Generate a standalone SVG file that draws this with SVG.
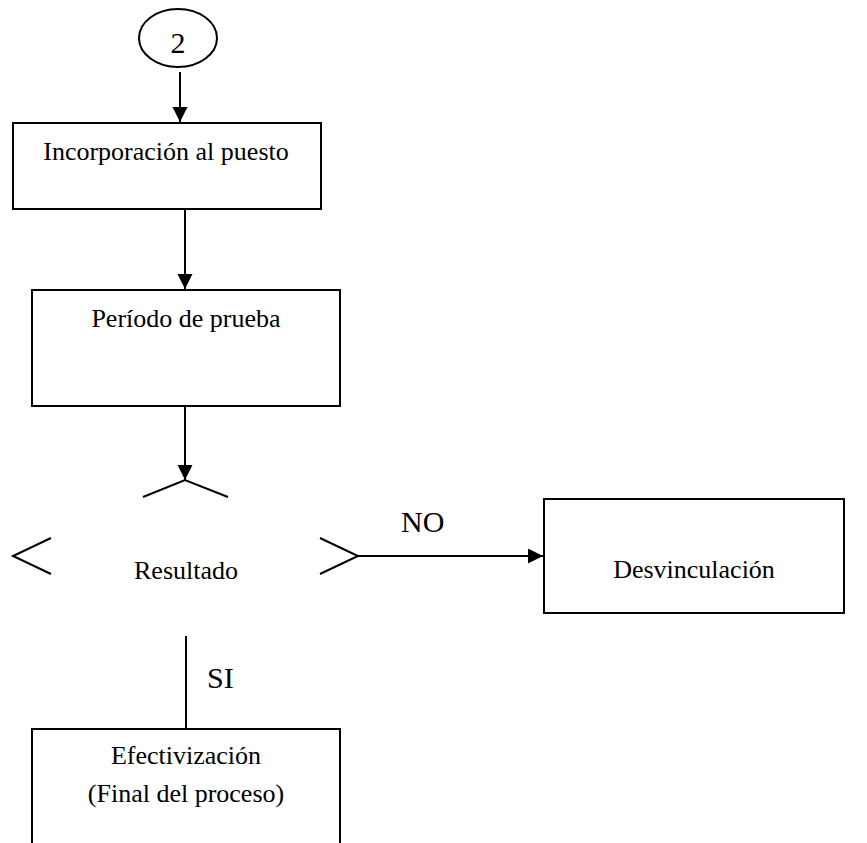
<svg xmlns="http://www.w3.org/2000/svg" width="867" height="843" viewBox="0 0 867 843">
<style>
.box{fill:#fff;stroke:#000;stroke-width:2}
.ln{fill:none;stroke:#000;stroke-width:2}
.t{font-family:"Liberation Serif","Times New Roman",serif;font-size:26px;fill:#000;text-anchor:middle}
.lb{font-family:"Liberation Serif","Times New Roman",serif;font-size:30px;fill:#000}
</style>
<defs>
<marker id="arr" markerUnits="userSpaceOnUse" markerWidth="16" markerHeight="16" refX="15" refY="7.5" orient="auto">
<path d="M0,0 L15,7.5 L0,15 Z" fill="#000"/>
</marker>
</defs>
<rect width="867" height="843" fill="#fff"/>
<g id="connectors">
<line class="ln" x1="180" y1="72" x2="180" y2="122" marker-end="url(#arr)"/>
<line class="ln" x1="185" y1="209" x2="185" y2="289" marker-end="url(#arr)"/>
<line class="ln" x1="185" y1="406" x2="185" y2="480" marker-end="url(#arr)"/>
<line class="ln" x1="358" y1="556" x2="543" y2="556" marker-end="url(#arr)"/>
<line class="ln" x1="186" y1="636" x2="186" y2="729"/>
<text class="lb" x="401" y="532">NO</text>
<text class="lb" x="207" y="688">SI</text>
</g>
<g id="n_inicio">
<ellipse class="box" cx="178" cy="38" rx="39" ry="29"/>
<text class="lb" x="178" y="53" text-anchor="middle">2</text>
</g>
<g id="n_incorporacion">
<rect class="box" x="13" y="123" width="308" height="86"/>
<text class="t" x="166" y="160">Incorporación al puesto</text>
</g>
<g id="n_periodo">
<rect class="box" x="32" y="290" width="308" height="116"/>
<text class="t" x="186" y="327">Período de prueba</text>
</g>
<g id="n_resultado">
<path class="ln" d="M143,497 L185,480 L228,497"/>
<path class="ln" d="M51,538 L13,556 L51,574"/>
<path class="ln" d="M320,538 L358,556 L320,574"/>
<text class="t" x="186" y="579">Resultado</text>
</g>
<g id="n_desvinculacion">
<rect class="box" x="544" y="499" width="300" height="114"/>
<text class="t" x="694" y="578">Desvinculación</text>
</g>
<g id="n_efectivizacion">
<path class="box" d="M32,845 L32,729 L340,729 L340,845"/>
<text class="t" x="186" y="764">Efectivización</text>
<text class="t" x="186" y="802">(Final del proceso)</text>
</g>
</svg>
